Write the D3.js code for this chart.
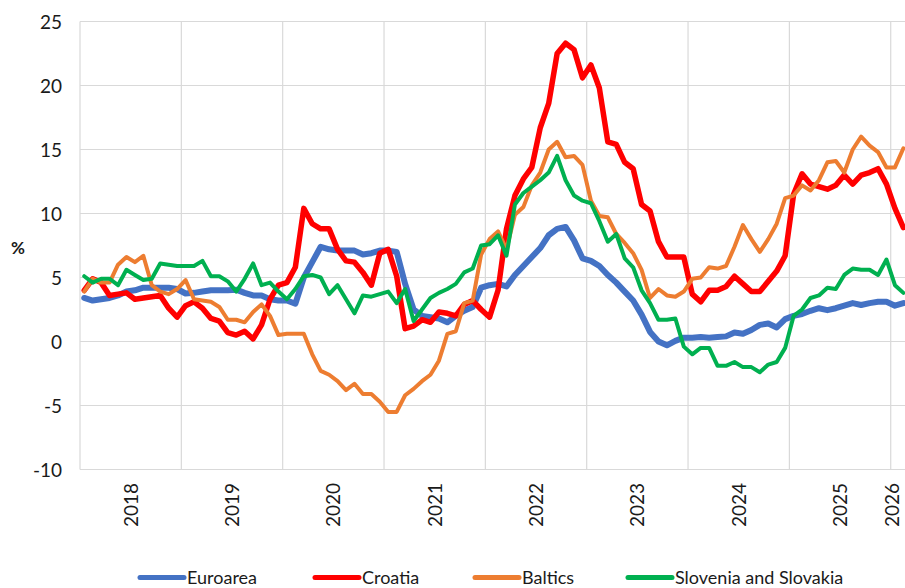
<!DOCTYPE html>
<html>
<head>
<meta charset="utf-8">
<script src="https://cdn.jsdelivr.net/npm/d3@7/dist/d3.min.js"></script>
<style>
  html, body { margin: 0; padding: 0; background: #fff; overflow: hidden; }
  svg { display: block; font-family: Lato, "Open Sans", sans-serif; }
</style>
</head>
<body>
<svg id="chart" width="905" height="588"></svg>
<script>
// Monthly series, Jan 2018 – Feb 2026 (%)
const startMonth = new Date(2018, 0, 1);
const endMonth = new Date(2026, 2, 1);
const yearLabels = ["2018", "2019", "2020", "2021", "2022", "2023", "2024", "2025", "2026"];
const yTicks = [-10, -5, 0, 5, 10, 15, 20, 25];
const seriesNames = ["Euroarea", "Croatia", "Baltics", "Slovenia and Slovakia"];
const seriesColors = ["#4472C4", "#FF0000", "#ED7D31", "#00B050"];

const euroarea = [
  3.4, 3.2, 3.3, 3.4, 3.6, 3.9, 4.0, 4.2, 4.2, 4.2, 4.2, 4.1,
  3.75, 3.8, 3.9, 4.0, 4.0, 4.0, 4.05, 3.8, 3.6, 3.6, 3.3, 3.2,
  3.2, 2.95, 5.0, 6.2, 7.4, 7.2, 7.1, 7.1, 7.1, 6.8, 6.9, 7.1,
  7.1, 7.0, 4.5, 2.5, 2.0, 1.9, 1.8, 1.5, 2.0, 2.4, 2.7, 4.2,
  4.4, 4.5, 4.3, 5.2, 5.9, 6.6, 7.3, 8.3, 8.8, 8.95, 7.9, 6.5,
  6.3, 5.9, 5.2, 4.6, 3.9, 3.2, 2.1, 0.75, 0.0, -0.3, 0.05, 0.3,
  0.3, 0.35, 0.3, 0.35, 0.4, 0.7, 0.6, 0.9, 1.3, 1.4, 1.1, 1.75,
  2.0, 2.15, 2.4, 2.6, 2.45, 2.6, 2.8, 3.0, 2.85, 3.0, 3.1, 3.1,
  2.8, 3.0
];
const croatia = [
  4.0, 4.9, 4.6, 3.6, 3.7, 3.8, 3.3, 3.4, 3.5, 3.6, 2.6, 1.9,
  2.8, 3.1, 2.6, 1.8, 1.6, 0.7, 0.5, 0.8, 0.2, 1.3, 3.3, 4.4,
  4.6, 5.8, 10.4, 9.2, 8.8, 8.8, 7.2, 6.3, 6.2, 5.4, 4.4, 6.9,
  7.2, 5.1, 1.0, 1.2, 1.7, 1.5, 2.3, 2.2, 2.0, 2.9, 3.2, 2.5,
  1.9, 4.0, 8.8, 11.4, 12.7, 13.6, 16.7, 18.6, 22.5, 23.3, 22.8, 20.6,
  21.6, 19.8, 15.6, 15.4, 14.0, 13.5, 10.7, 10.2, 7.8, 6.6, 6.6, 6.6,
  3.7, 3.1, 4.0, 4.0, 4.3, 5.1, 4.5, 3.9, 3.9, 4.7, 5.5, 6.7,
  11.5, 13.1, 12.3, 12.1, 11.9, 12.2, 13.0, 12.3, 13.0, 13.2, 13.5, 12.3,
  10.4, 8.9
];
const baltics = [
  3.9, 4.9, 4.6, 4.6, 6.0, 6.6, 6.2, 6.7, 4.4, 3.9, 3.7, 4.1,
  4.8, 3.3, 3.2, 3.1, 2.7, 1.7, 1.7, 1.5, 2.3, 2.9, 2.0, 0.5,
  0.6, 0.6, 0.6, -1.0, -2.3, -2.6, -3.1, -3.8, -3.3, -4.1, -4.1, -4.7,
  -5.5, -5.5, -4.2, -3.7, -3.1, -2.6, -1.5, 0.6, 0.8, 3.0, 3.2, 6.8,
  8.0, 8.6, 7.2, 9.9, 10.5, 12.2, 13.2, 15.0, 15.6, 14.4, 14.5, 13.8,
  11.0, 9.8, 9.7, 8.4, 7.7, 6.9, 5.6, 3.4, 4.1, 3.6, 3.5, 3.9,
  4.9, 5.0, 5.8, 5.7, 5.9, 7.4, 9.1, 8.0, 7.0, 8.0, 9.2, 11.2,
  11.4, 12.2, 11.8, 12.6, 14.0, 14.1, 13.2, 15.0, 16.0, 15.3, 14.8, 13.6,
  13.6, 15.1
];
const sloveniaSlovakia = [
  5.1, 4.6, 4.9, 4.9, 4.4, 5.6, 5.2, 4.8, 4.9, 6.1, 6.0, 5.9,
  5.9, 5.9, 6.3, 5.1, 5.1, 4.7, 3.9, 4.9, 6.1, 4.4, 4.6, 3.9,
  3.3, 4.1, 5.1, 5.2, 5.0, 3.7, 4.4, 3.3, 2.2, 3.6, 3.5, 3.7,
  3.9, 3.0, 4.1, 1.6, 2.5, 3.4, 3.8, 4.1, 4.5, 5.4, 5.7, 7.5,
  7.6, 8.3, 6.7, 10.7, 11.6, 12.1, 12.6, 13.2, 14.5, 12.6, 11.4, 11.0,
  10.8, 9.4, 7.8, 8.4, 6.5, 5.8, 4.0, 3.0, 1.7, 1.7, 1.8, -0.4,
  -1.0, -0.5, -0.5, -1.9, -1.9, -1.6, -2.0, -2.0, -2.4, -1.8, -1.6, -0.5,
  2.0, 2.5, 3.4, 3.6, 4.2, 4.1, 5.2, 5.7, 5.6, 5.6, 5.2, 6.4,
  4.4, 3.8
];

const seriesValues = [euroarea, croatia, baltics, sloveniaSlovakia];
const seriesWidths = [6, 5.5, 4, 4];

const months = d3.timeMonths(startMonth, endMonth);
const fmt = d3.timeFormat("%Y-%m");
const monthKeys = months.map(fmt);

const W = 905, H = 588;
const plot = { left: 80, top: 21.5, bottom: 469.5 };
const slot = 101.34 / 12;
const plotRight = plot.left + slot * monthKeys.length;

const svg = d3.select("#chart");
svg.append("rect").attr("width", W).attr("height", H).attr("fill", "#fff");

const x = d3.scaleBand().domain(monthKeys).range([plot.left, plotRight]).padding(0);
const y = d3.scaleLinear().domain([-10, 25]).range([plot.bottom, plot.top]);
const cx = k => x(k) + x.bandwidth() / 2;

// Horizontal gridlines
svg.append("g")
  .selectAll("line")
  .data(yTicks)
  .join("line")
  .attr("x1", plot.left).attr("x2", plotRight)
  .attr("y1", d => y(d)).attr("y2", d => y(d))
  .attr("stroke", "#d9d9d9").attr("stroke-width", 1.2);

// Vertical gridlines at each year start (and the left axis line)
const yearStarts = yearLabels.map(yl => yl + "-01");
svg.append("g")
  .selectAll("line")
  .data(yearStarts)
  .join("line")
  .attr("x1", d => x(d)).attr("x2", d => x(d))
  .attr("y1", plot.top).attr("y2", plot.bottom)
  .attr("stroke", "#d9d9d9").attr("stroke-width", 1.2);

// Y axis labels (plain hyphen for negatives)
const yAxis = d3.axisLeft(y).tickValues(yTicks).tickFormat(d => String(d)).tickSize(0).tickPadding(0);
const gy = svg.append("g").attr("transform", `translate(62,0)`).call(yAxis);
gy.select(".domain").remove();
gy.selectAll("text")
  .attr("font-family", "Lato, sans-serif")
  .attr("font-size", 19)
  .attr("fill", "#1a1a1a")
  .attr("dy", "0.36em");

svg.append("text")
  .attr("x", 18).attr("y", 248)
  .attr("text-anchor", "middle")
  .attr("dy", "0.36em")
  .attr("font-size", 17).attr("font-weight", "bold")
  .attr("fill", "#1a1a1a")
  .text("%");

// Year labels, rotated, centred in each year's visible span
const yearGroups = yearLabels.map(yl => {
  const keys = monthKeys.filter(k => k.startsWith(yl));
  const x0 = x(keys[0]);
  const x1 = x(keys[keys.length - 1]) + x.bandwidth();
  return { label: yl, mid: Math.min((x0 + x1) / 2, W - 12.5) };
});
svg.append("g")
  .selectAll("text")
  .data(yearGroups)
  .join("text")
  .attr("transform", d => `translate(${d.mid},483) rotate(-90)`)
  .attr("text-anchor", "end")
  .attr("dy", "0.36em")
  .attr("font-size", 19)
  .attr("fill", "#1a1a1a")
  .text(d => d.label);

// Series lines
const line = d3.line()
  .x((d, i) => cx(monthKeys[i]))
  .y(d => y(d));

svg.append("g")
  .selectAll("path")
  .data(seriesValues)
  .join("path")
  .attr("d", d => line(d))
  .attr("fill", "none")
  .attr("stroke", (d, i) => seriesColors[i])
  .attr("stroke-width", (d, i) => seriesWidths[i])
  .attr("stroke-linejoin", "round")
  .attr("stroke-linecap", "round");

// Legend
const legendX = [140, 315, 475, 628];
const legendY = 577.5;
const lg = svg.append("g")
  .selectAll("g")
  .data(seriesNames)
  .join("g")
  .attr("transform", (d, i) => `translate(${legendX[i]},${legendY})`);
lg.append("line")
  .attr("x1", 0).attr("x2", 44)
  .attr("stroke", (d, i) => seriesColors[i])
  .attr("stroke-width", 5)
  .attr("stroke-linecap", "round");
lg.append("text")
  .attr("x", 47)
  .attr("dy", "0.36em")
  .attr("font-size", 18)
  .attr("fill", "#1a1a1a")
  .text(d => d);
</script>
</body>
</html>
